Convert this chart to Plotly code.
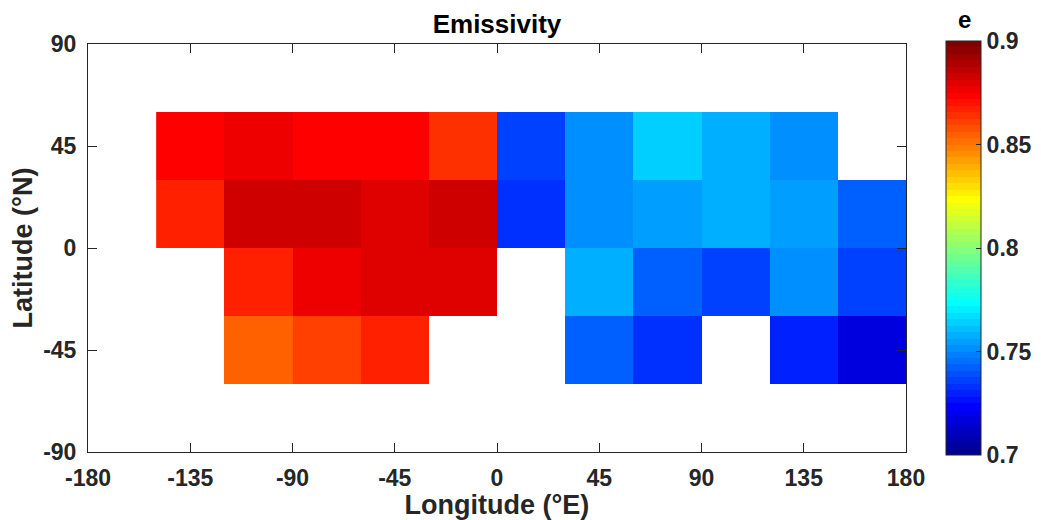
import numpy as np
import plotly.graph_objects as go

# ---- data ----
lon_centers = [-135, -105, -75, -45, -15, 15, 45, 75, 105, 135, 165]
lat_centers = [45, 15, -15, -45]
row_lat45 = [0.8734, 0.8766, 0.8734, 0.8734, 0.8641, 0.7359, 0.7516, 0.7641, 0.7578, 0.7516, None]
row_lat15 = [0.8672, 0.8828, 0.8828, 0.8797, 0.8828, 0.7328, 0.7516, 0.7547, 0.7578, 0.7547, 0.7422]
row_latm15 = [None, 0.8672, 0.8766, 0.8797, 0.8797, None, 0.7578, 0.7422, 0.7359, 0.7516, 0.7359]
row_latm45 = [None, 0.8547, 0.8609, 0.8672, None, None, 0.7422, 0.7328, None, 0.7297, 0.7172]
x_ticks = [-180, -135, -90, -45, 0, 45, 90, 135, 180]
x_ticktext = ["-180", "-135", "-90", "-45", "0", "45", "90", "135", "180"]
y_ticks = [-90, -45, 0, 45, 90]
y_ticktext = ["-90", "-45", "0", "45", "90"]
cb_ticks = [0.7, 0.75, 0.8, 0.85, 0.9]
cb_ticktext = ["0.7", "0.75", "0.8", "0.85", "0.9"]

z = [row_lat45, row_lat15, row_latm15, row_latm45]

# ---- MATLAB jet(64), stepped ----
def matlab_jet(n=64):
    m = int(np.ceil(n / 4))
    u = np.concatenate([np.arange(1, m + 1) / m, np.ones(m - 1), np.arange(m, 0, -1) / m])
    g = int(np.ceil(m / 2)) - (1 if n % 4 == 1 else 0) + np.arange(1, len(u) + 1)
    r = g + m
    b = g - m
    J = np.zeros((n, 3))
    for arr, col in ((r, 0), (g, 1), (b, 2)):
        for k, idx in enumerate(arr):
            if 1 <= idx <= n:
                J[idx - 1, col] = u[k]
    return J

J = matlab_jet(64)
cscale = []
for i, c in enumerate(J):
    col = "rgb(%d,%d,%d)" % tuple(int(round(v * 255)) for v in c)
    cscale.append([i / 64, col])
    cscale.append([(i + 1) / 64, col])

txt = "#262626"
FONT = "Liberation Sans, Arial, sans-serif"
W, H = 1033, 512  # page has an 8px body margin

fig = go.Figure(go.Heatmap(
    x=lon_centers, y=lat_centers, z=z,
    zmin=0.7, zmax=0.9, colorscale=cscale,
    hoverongaps=False,
    colorbar=dict(
        xref="container", x=938 / W, xanchor="left", xpad=0,
        y=0.5, yanchor="middle", ypad=0,
        thickness=35, lenmode="pixels", len=414,
        outlinecolor=txt, outlinewidth=1,
        ticks="inside", ticklen=5, tickcolor=txt,
        tickvals=cb_ticks, ticktext=cb_ticktext,
        tickfont=dict(family=FONT, size=23, color=txt, weight=700),
    ),
))

fig.add_annotation(
    text="e", xref="paper", yref="paper", showarrow=False,
    x=1 + (956 - 898) / 818, y=1 + (36 - 12) / 408,
    xanchor="center", yanchor="middle",
    font=dict(family=FONT, size=24, color="black", weight=700),
)

fig.update_layout(
    width=W, height=H,
    margin=dict(l=80, r=135, t=36, b=68),
    paper_bgcolor="white", plot_bgcolor="white",
    title=dict(text="Emissivity", x=489 / W, xanchor="center",
               y=1 - 16 / H, yanchor="middle",
               font=dict(family=FONT, size=26, color="black", weight=700)),
    xaxis=dict(
        range=[-180, 180], tickvals=x_ticks, ticktext=x_ticktext,
        showgrid=False, zeroline=False, automargin=False,
        showline=True, linecolor=txt, linewidth=1, mirror="ticks",
        ticks="inside", ticklen=9, tickcolor=txt,
        tickfont=dict(family=FONT, size=23, color=txt, weight=700),
        ticklabelstandoff=5,
        title=dict(text="Longitude (°E)", standoff=2,
                   font=dict(family=FONT, size=27, color=txt, weight=700)),
    ),
    yaxis=dict(
        range=[-90, 90], tickvals=y_ticks, ticktext=y_ticktext,
        showgrid=False, zeroline=False, automargin=False,
        showline=True, linecolor=txt, linewidth=1, mirror="ticks",
        ticks="inside", ticklen=9, tickcolor=txt,
        tickfont=dict(family=FONT, size=23, color=txt, weight=700),
        ticklabelstandoff=6,
        title=dict(text="Latitude (°N)", standoff=8,
                   font=dict(family=FONT, size=27, color=txt, weight=700)),
    ),
)

fig.write_html("out.html")
